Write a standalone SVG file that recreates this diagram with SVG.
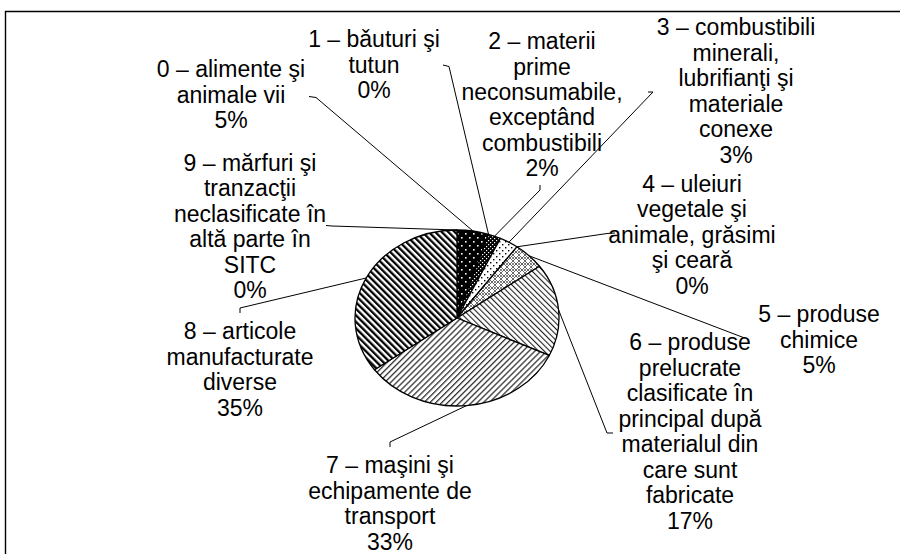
<svg xmlns="http://www.w3.org/2000/svg" width="900" height="554" viewBox="0 0 900 554">
<style>
text{font-family:"Liberation Sans",Arial,sans-serif;font-size:23px;fill:#000;text-anchor:middle}
.slice{stroke:#000;stroke-width:1.3;stroke-linejoin:round}
.lead{fill:none;stroke:#000;stroke-width:1}
</style>
<defs>
<pattern id="p0" width="8" height="8" patternUnits="userSpaceOnUse"><rect width="8" height="8" fill="#000"/><rect x="1" y="1" width="1.6" height="1.6" fill="#fff"/><rect x="5" y="5" width="1.6" height="1.6" fill="#fff"/></pattern>
<pattern id="p2" width="4" height="4" patternUnits="userSpaceOnUse"><rect width="4" height="4" fill="#000"/><rect x="0" y="0" width="1.2" height="1.2" fill="#fff"/><rect x="2" y="2" width="1.2" height="1.2" fill="#fff"/></pattern>
<pattern id="p3" width="6" height="6" patternUnits="userSpaceOnUse"><rect width="6" height="6" fill="#fff"/><rect x="1" y="1" width="1.4" height="1.4" fill="#000"/><rect x="4" y="4" width="1.4" height="1.4" fill="#000"/></pattern>
<pattern id="p5" width="6" height="6" patternUnits="userSpaceOnUse"><rect width="6" height="6" fill="#fff"/><path d="M0,0L6,6M6,0L0,6" stroke="#555" stroke-width="0.9"/><rect x="2.3" y="-0.7" width="1.4" height="1.4" fill="#000"/><rect x="2.3" y="5.3" width="1.4" height="1.4" fill="#000"/></pattern>
<pattern id="p6" width="4" height="4" patternUnits="userSpaceOnUse" patternTransform="rotate(-45)"><rect width="4" height="4" fill="#fff"/><rect x="0" y="0" width="1.1" height="4" fill="#222"/></pattern>
<pattern id="p7" width="4.2" height="4.2" patternUnits="userSpaceOnUse" patternTransform="rotate(45)"><rect width="4.2" height="4.2" fill="#fff"/><rect x="0" y="0" width="1.3" height="4.2" fill="#333"/></pattern>
<pattern id="p8" width="4.6" height="4.6" patternUnits="userSpaceOnUse" patternTransform="rotate(-45)"><rect width="4.6" height="4.6" fill="#fff"/><rect x="0" y="0" width="2.3" height="4.6" fill="#000"/></pattern>
</defs>
<rect width="900" height="554" fill="#fff"/>
<path d="M5.5,554V11.5H900" fill="none" stroke="#000" stroke-width="1.4"/>

<g id="pie">
<path id="s0" class="slice" fill="url(#p0)" d="M457,318L457,230A102,88 0 0 1 488.52,234.31Z"/>
<path id="s2" class="slice" fill="url(#p2)" d="M457,318L488.52,234.31A102,88 0 0 1 500.43,238.37Z"/>
<path id="s3" class="slice" fill="url(#p3)" d="M457,318L500.43,238.37A102,88 0 0 1 516.95,246.81Z"/>
<path id="s5" class="slice" fill="url(#p5)" d="M457,318L516.95,246.81A102,88 0 0 1 539.52,266.27Z"/>
<path id="s6" class="slice" fill="url(#p6)" d="M457,318L539.52,266.27A102,88 0 0 1 549.29,355.47Z"/>
<path id="s7" class="slice" fill="url(#p7)" d="M457,318L549.29,355.47A102,88 0 0 1 374.48,369.73Z"/>
<path id="s8" class="slice" fill="url(#p8)" d="M457,318L374.48,369.73A102,88 0 0 1 457,230Z"/>
</g>

<g id="connectors">
<polyline class="lead" points="309,96.5 316,97.5 473,231"/>
<polyline class="lead" points="443,65 449,66.5 488.5,234.3"/>
<polyline class="lead" points="540,185 540,190 494.5,236.2"/>
<polyline class="lead" points="648,92 653,92 508.9,242.3"/>
<polyline class="lead" points="615,233 607,233.5 517,246.8"/>
<polyline class="lead" points="745,338 742,337 529.1,255.8"/>
<polyline class="lead" points="613,433 607,433 558.5,309.7"/>
<polyline class="lead" points="390,447 390,442 466.6,405.6"/>
<polyline class="lead" points="240,313 240,308 366.1,278"/>
<polyline class="lead" points="326,225.5 332,226 457,230"/>
</g>

<g id="label0"><text x="231" y="77">0 – alimente şi</text><text x="231" y="102.5">animale vii</text><text x="231" y="128">5%</text></g>
<g id="label1"><text x="374" y="47">1 – bǎuturi şi</text><text x="374" y="72.5">tutun</text><text x="374" y="98">0%</text></g>
<g id="label2"><text x="542" y="49">2 – materii</text><text x="542" y="74.5">prime</text><text x="542" y="100">neconsumabile,</text><text x="542" y="125">exceptând</text><text x="542" y="150.5">combustibili</text><text x="542" y="175.5">2%</text></g>
<g id="label3"><text x="736" y="35">3 – combustibili</text><text x="736" y="60.5">minerali,</text><text x="736" y="86">lubrifianţi şi</text><text x="736" y="111.5">materiale</text><text x="736" y="137">conexe</text><text x="736" y="162.5">3%</text></g>
<g id="label4"><text x="692" y="191.5">4 – uleiuri</text><text x="692" y="217">vegetale şi</text><text x="692" y="242.5">animale, grăsimi</text><text x="692" y="268">şi ceară</text><text x="692" y="293.5">0%</text></g>
<g id="label5"><text x="819" y="322">5 – produse</text><text x="819" y="347.5">chimice</text><text x="819" y="372.5">5%</text></g>
<g id="label6"><text x="690" y="350">6 – produse</text><text x="690" y="375.5">prelucrate</text><text x="690" y="401">clasificate în</text><text x="690" y="426.5">principal după</text><text x="690" y="452">materialul din</text><text x="690" y="477.5">care sunt</text><text x="690" y="503">fabricate</text><text x="690" y="528.5">17%</text></g>
<g id="label7"><text x="390" y="473">7 – maşini şi</text><text x="390" y="498.5">echipamente de</text><text x="390" y="524">transport</text><text x="390" y="549.5">33%</text></g>
<g id="label8"><text x="240" y="339">8 – articole</text><text x="240" y="364.5">manufacturate</text><text x="240" y="390">diverse</text><text x="240" y="415.5">35%</text></g>
<g id="label9"><text x="250" y="170.5">9 – mărfuri şi</text><text x="250" y="196">tranzacţii</text><text x="250" y="221.5">neclasificate în</text><text x="250" y="247">altă parte în</text><text x="250" y="272.5">SITC</text><text x="250" y="298">0%</text></g>
</svg>
